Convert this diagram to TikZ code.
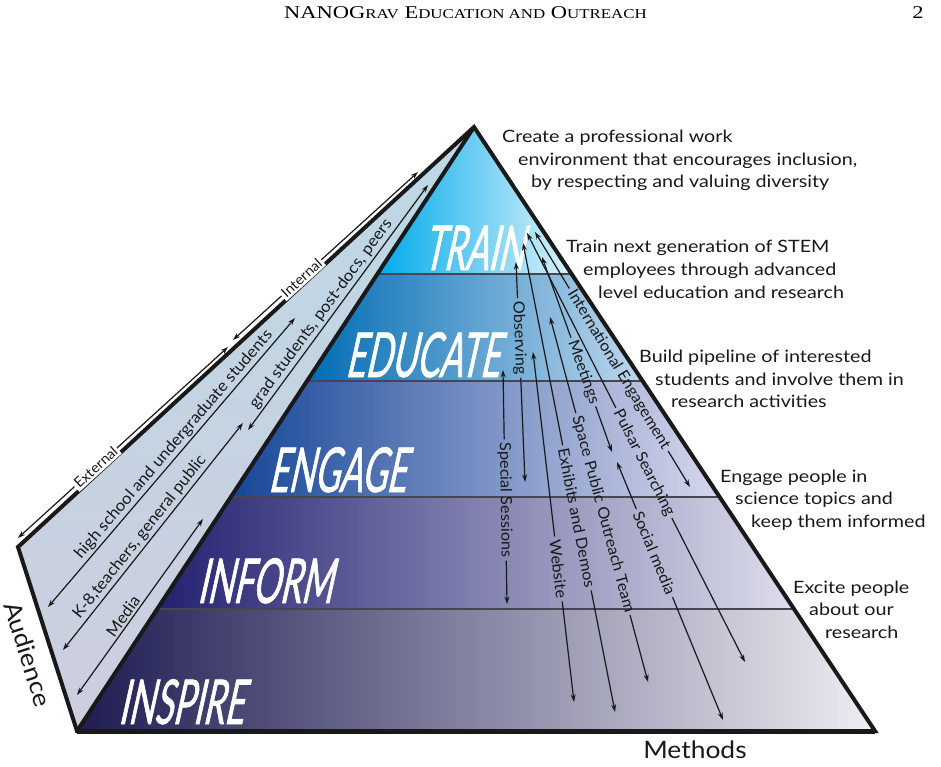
\documentclass[tikz,border=0pt]{standalone}
\usepackage{fontspec}
\setmainfont[FakeStretch=1.05]{Lato}
\newfontfamily\capfont[FakeStretch=1.16]{Lato}
\newfontfamily\axisfont[FakeStretch=1.1]{Lato}
\newfontfamily\layerfont[FakeSlant=0.22,FakeStretch=0.55,FakeBold=1]{Lato}
\newfontfamily\headfont[FakeStretch=1.25]{Liberation Serif}
\usetikzlibrary{arrows.meta}
\definecolor{trainL}{RGB}{0,170,235}
\definecolor{trainM}{RGB}{25,182,238}
\definecolor{trainR}{RGB}{220,242,250}
\definecolor{eduL}{RGB}{0,108,180}
\definecolor{eduM}{RGB}{60,140,200}
\definecolor{eduR}{RGB}{190,215,236}
\definecolor{engL}{RGB}{22,70,152}
\definecolor{engM}{RGB}{100,110,185}
\definecolor{engR}{RGB}{215,215,236}
\definecolor{infL}{RGB}{35,33,112}
\definecolor{infM}{RGB}{105,92,162}
\definecolor{infR}{RGB}{222,222,236}
\definecolor{insL}{RGB}{30,28,82}
\definecolor{insM}{RGB}{95,88,135}
\definecolor{insR}{RGB}{238,238,243}
\definecolor{faceT}{RGB}{188,216,230}
\definecolor{faceB}{RGB}{206,206,222}
\definecolor{divc}{RGB}{70,70,82}
\definecolor{ink}{RGB}{25,25,25}
\tikzset{
  outln/.style={line width=4pt, draw=ink, line join=miter},
  divline/.style={line width=1.5pt, draw=divc},
  arr/.style={line width=1.2pt, draw=ink, -{Stealth[length=7.5pt,width=5pt]}},
  dbl/.style={line width=1.2pt, draw=ink, {Stealth[length=7.5pt,width=5pt]}-{Stealth[length=7.5pt,width=5pt]}},
  mlabel/.style={font=\fontsize{15.5}{15.5}\selectfont, text=ink, inner sep=3pt},
  facetext/.style={font=\fontsize{16}{16}\selectfont, text=ink, inner sep=2pt},
  edgetext/.style={font=\fontsize{14}{14}\selectfont, text=ink, fill=white, inner sep=2pt},
  layerlbl/.style={font=\layerfont\fontsize{62}{62}\selectfont, text=white, anchor=base west, inner sep=0pt},
  captxt/.style={font=\capfont\fontsize{17}{17}\selectfont, text=ink, anchor=base west, inner sep=0pt},
  axislbl/.style={font=\axisfont\fontsize{24}{24}\selectfont, text=ink, inner sep=0pt},
}
\begin{document}
\begin{tikzpicture}[x=1pt,y=-1pt]
\useasboundingbox (0,0) rectangle (941,767);
% header
\node[anchor=base west, inner sep=0pt, font=\headfont\fontsize{18}{18}\selectfont] (hdr) at (284,19)
  {NANOG{\fontsize{13.5}{13.5}\selectfont RAV} E{\fontsize{13.5}{13.5}\selectfont DUCATION AND} O{\fontsize{13.5}{13.5}\selectfont UTREACH}};
\node[anchor=base, inner sep=0pt, font=\headfont\fontsize{18}{18}\selectfont] (pg) at (918,19) {2};

% main coordinates
\coordinate (A) at (474,127);
\coordinate (BL) at (77,731);
\coordinate (BR) at (875,731);
\coordinate (O) at (18,547);
\coordinate (l1) at (377.4,274); \coordinate (r1) at (571.6,274);
\coordinate (l2) at (307.0,381); \coordinate (r2) at (642.6,381);
\coordinate (l3) at (230.8,497); \coordinate (r3) at (719.6,497);
\coordinate (l4) at (157.2,609); \coordinate (r4) at (794.0,609);

% side face
\shade[top color=faceT, bottom color=faceB] (A) -- (O) -- (BL) -- cycle;
% bands
\shade[left color=trainL, middle color=trainM, right color=trainR] (A) -- (l1) -- (r1) -- cycle;
\shade[left color=eduL, middle color=eduM, right color=eduR] (l1) -- (l2) -- (r2) -- (r1) -- cycle;
\shade[left color=engL, middle color=engM, right color=engR] (l2) -- (l3) -- (r3) -- (r2) -- cycle;
\shade[left color=infL, middle color=infM, right color=infR] (l3) -- (l4) -- (r4) -- (r3) -- cycle;
\shade[left color=insL, middle color=insM, right color=insR] (l4) -- (BL) -- (BR) -- (r4) -- cycle;
\draw[divline] (l1) -- (r1);
\draw[divline] (l2) -- (r2);
\draw[divline] (l3) -- (r3);
\draw[divline] (l4) -- (r4);

% layer labels
\node[layerlbl] (train) at (423,270) {TRAIN};
\node[layerlbl] (educate) at (345,377) {EDUCATE};
\node[layerlbl] (engage) at (268,492) {ENGAGE};
\node[layerlbl] (inform) at (197,603) {INFORM};
\node[layerlbl] (inspire) at (118,724) {INSPIRE};

% outline
\draw[outln] (A) -- (O) -- (BL) -- (BR) -- cycle;
\draw[outln] (A) -- (BL);
\draw[line width=5pt, draw=ink] (BL) -- (BR);

% audience arrows outside
\coordinate (in1) at (233,340); \coordinate (in2) at (418,172);
\draw[dbl] (in1) -- (in2) node[pos=0.37, sloped, edgetext] (internal) {Internal};
\coordinate (ex1) at (18,538); \coordinate (ex2) at (228,347);
\draw[dbl] (ex1) -- (ex2) node[pos=0.37, sloped, edgetext] (external) {External};

% audience arrows on face
\coordinate (hs1) at (48,607); \coordinate (hs2) at (295,318);
\draw[dbl] (hs1) -- (hs2) node[pos=0.54, sloped, above, facetext] (hs) {high school and undergraduate students};
\coordinate (k1) at (63,650); \coordinate (k2) at (243,423);
\draw[dbl] (k1) -- (k2) node[pos=0.47, sloped, above, facetext] (k8) {K-8,teachers, general public};
\coordinate (md1) at (77,695); \coordinate (md2) at (203,519);
\draw[dbl] (md1) -- (md2) node[pos=0.42, sloped, above, facetext] (media) {Media};
\coordinate (g1) at (248,430); \coordinate (g2) at (428,185);
\draw[dbl] (g1) -- (g2) node[pos=0.45, sloped, above, facetext] (grad) {grad students, post-docs, peers};

% methods arrows
\coordinate (t1) at (516,262); \coordinate (b1) at (525,482);
\path (t1) -- (b1) node[pos=0.345, sloped, mlabel] (m1) {Observing};
\draw[arr] (m1.west) -- (t1); \draw[arr] (m1.east) -- (b1);
\coordinate (t2) at (503,370); \coordinate (b2) at (507,604);
\path (t2) -- (b2) node[pos=0.556, sloped, mlabel] (m2) {Special Sessions};
\draw[arr] (m2.west) -- (t2); \draw[arr] (m2.east) -- (b2);
\coordinate (t3) at (533,352); \coordinate (b3) at (574,702);
\path (t3) -- (b3) node[pos=0.62, sloped, mlabel] (m3) {Website};
\draw[arr] (m3.west) -- (t3); \draw[arr] (m3.east) -- (b3);
\coordinate (t4) at (523,243); \coordinate (b4) at (615,712);
\path (t4) -- (b4) node[pos=0.586, sloped, mlabel] (m4) {Exhibits and Demos};
\draw[arr] (m4.west) -- (t4); \draw[arr] (m4.east) -- (b4);
\coordinate (t5) at (550,317); \coordinate (b5) at (648,682);
\path (t5) -- (b5) node[pos=0.54, sloped, mlabel] (m5) {Space Public Outreach Team};
\draw[arr] (m5.west) -- (t5); \draw[arr] (m5.east) -- (b5);
\coordinate (t6) at (542,257); \coordinate (b6) at (612,452);
\path (t6) -- (b6) node[pos=0.59, sloped, mlabel] (m6) {Meetings};
\draw[arr] (m6.west) -- (t6); \draw[arr] (m6.east) -- (b6);
\coordinate (t7) at (535,232); \coordinate (b7) at (690,487);
\path (t7) -- (b7) node[pos=0.54, sloped, mlabel] (m7) {International Engagement};
\draw[arr] (m7.west) -- (t7); \draw[arr] (m7.east) -- (b7);
\coordinate (t8) at (527,233); \coordinate (b8) at (745,662);
\path (t8) -- (b8) node[pos=0.536, sloped, mlabel] (m8) {Pulsar Searching};
\draw[arr] (m8.west) -- (t8); \draw[arr] (m8.east) -- (b8);
\coordinate (t9) at (617,462); \coordinate (b9) at (723,720);
\path (t9) -- (b9) node[pos=0.353, sloped, mlabel] (m9) {Social media};
\draw[arr] (m9.west) -- (t9); \draw[arr] (m9.east) -- (b9);

% captions
\node[captxt] (c1a) at (502,143) {Create a professional work};
\node[captxt] (c1b) at (518,166) {environment that encourages inclusion,};
\node[captxt] (c1c) at (531,188) {by respecting and valuing diversity};
\node[captxt] (c2a) at (566,252) {Train next generation of STEM};
\node[captxt] (c2b) at (583,275) {employees through advanced};
\node[captxt] (c2c) at (598,298) {level education and research};
\node[captxt] (c3a) at (639,362) {Build pipeline of interested};
\node[captxt] (c3b) at (655,385) {students and involve them in};
\node[captxt] (c3c) at (671,407) {research activities};
\node[captxt] (c4a) at (720,482) {Engage people in};
\node[captxt] (c4b) at (735,504) {science topics and};
\node[captxt] (c4c) at (751,527) {keep them informed};
\node[captxt] (c5a) at (793,593) {Excite people};
\node[captxt] (c5b) at (809,615) {about our};
\node[captxt] (c5c) at (825,638) {research};

% axis labels
\node[axislbl, rotate=-72.3] (aud) at (28,654) {Audience};
\node[axislbl] (meth) at (695,750) {Methods};
\end{tikzpicture}
\end{document}
